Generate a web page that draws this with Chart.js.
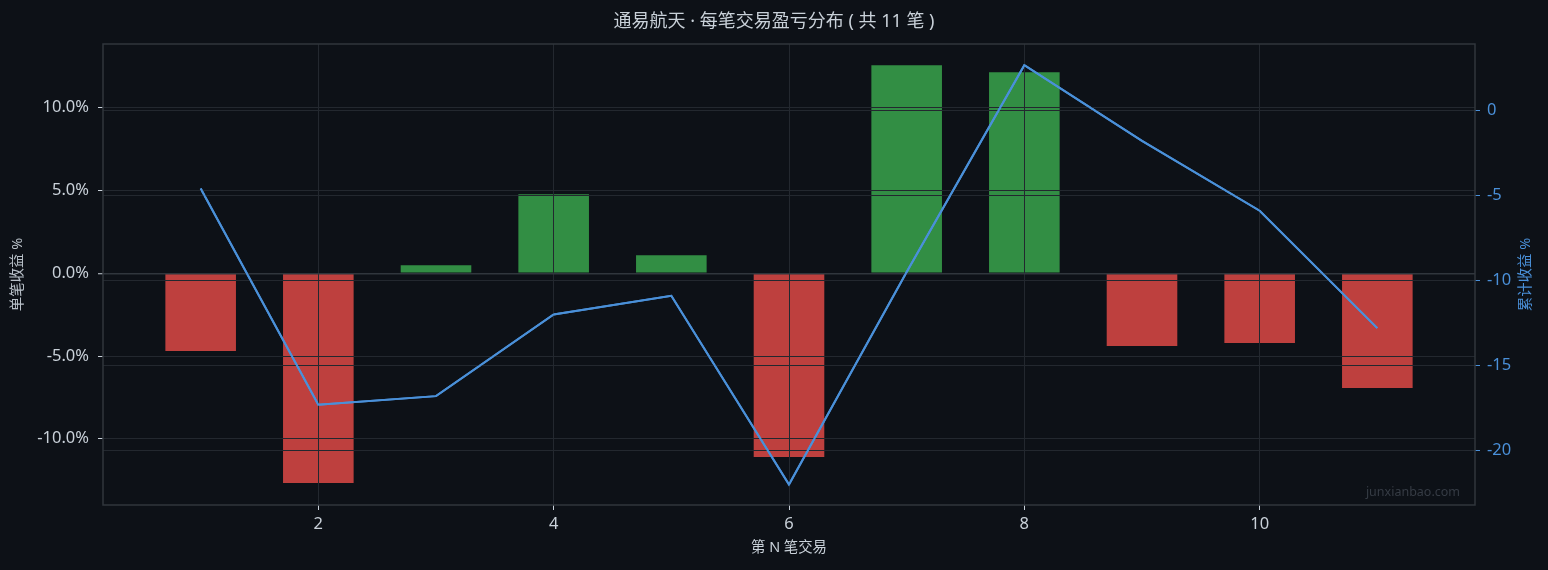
<!DOCTYPE html>
<html>
<head>
<meta charset="utf-8">
<script src="https://cdn.jsdelivr.net/npm/chart.js@4.4.0/dist/chart.umd.min.js"></script>
<style>
  html, body { margin: 0; padding: 0; background: #0d1117; }
  #wrap { width: 1548px; height: 570px; }
</style>
</head>
<body>
<div id="wrap"><canvas id="trades" width="1548" height="570"></canvas></div>
<script>
// trade numbers, per-trade return (%), running total (%)
const TRADE_NO  = [1, 2, 3, 4, 5, 6, 7, 8, 9, 10, 11];
const TRADE_PCT = [-4.69, -12.67, 0.48, 4.77, 1.09, -11.10, 12.57, 12.15, -4.39, -4.21, -6.93];
const CUM_PCT   = [-4.6, -17.3, -16.8, -12.0, -10.9, -22.0, -9.5, 2.65, -1.8, -5.9, -12.8];

// tick labels
const X_TICKS     = [2, 4, 6, 8, 10];
const LEFT_TICKS  = [-10, -5, 0, 5, 10];
const RIGHT_TICKS = [-20, -15, -10, -5, 0];

const TITLE = '通易航天 · 每笔交易盈亏分布 ( 共 11 笔 )';
const FONT  = "'Noto Sans', 'Noto Sans CJK SC', sans-serif";

const TXT   = '#c9d1d9';
const BLUE  = '#4a90d9';
const GRID  = '#23282f';
const FRAME = '#30363d';

const fixTicks = list => scale => { scale.ticks = list.map(v => ({ value: v })); };

// background, line above grid, frame, right title, watermark
const decor = {
  id: 'decor',
  beforeDraw(chart) {
    const c = chart.ctx;
    c.save();
    c.fillStyle = '#0d1117';
    c.fillRect(0, 0, chart.width, chart.height);
    c.restore();
  },
  afterDraw(chart) {
    const c = chart.ctx, a = chart.chartArea;
    chart.getDatasetMeta(1).controller.draw();

    c.save();
    c.strokeStyle = FRAME;
    c.lineWidth = 1.5;
    c.strokeRect(a.left, a.top, a.right - a.left, a.bottom - a.top);

    c.fillStyle = BLUE;
    c.font = `14.4px ${FONT}`;
    c.textAlign = 'center';
    c.textBaseline = 'middle';
    c.translate(1526, (a.top + a.bottom) / 2);
    c.rotate(-Math.PI / 2);
    c.fillText('累计收益 %', 0, 0);
    c.restore();

    c.save();
    c.fillStyle = '#363c45';
    c.font = `12.5px ${FONT}`;
    c.textAlign = 'right';
    c.textBaseline = 'middle';
    c.fillText('junxianbao.com', a.right - 15, a.bottom - 13);
    c.restore();
  }
};

new Chart(document.getElementById('trades'), {
  data: {
    datasets: [
      {
        type: 'bar',
        label: '单笔收益',
        data: TRADE_NO.map((n, i) => ({ x: n, y: TRADE_PCT[i] })),
        backgroundColor: TRADE_PCT.map(v => v >= 0 ? '#328e44' : '#be403e'),
        borderWidth: 0,
        barPercentage: 0.6,
        categoryPercentage: 1,
        yAxisID: 'y',
        order: 2
      },
      {
        type: 'line',
        label: '累计收益',
        data: TRADE_NO.map((n, i) => ({ x: n, y: CUM_PCT[i] })),
        borderColor: BLUE,
        borderWidth: 2,
        pointRadius: 0,
        tension: 0,
        fill: false,
        yAxisID: 'y2',
        order: 1
      }
    ]
  },
  options: {
    responsive: false,
    animation: false,
    devicePixelRatio: 1,
    layout: { padding: 0 },
    plugins: {
      legend: { display: false },
      tooltip: { enabled: false },
      title: {
        display: true,
        text: TITLE,
        color: TXT,
        font: { family: FONT, size: 18, weight: 'normal' },
        padding: { top: 11.2, bottom: 11.2 }
      }
    },
    scales: {
      x: {
        type: 'linear',
        min: 0.17, max: 11.83,
        offset: false,
        afterBuildTicks: fixTicks(X_TICKS),
        afterFit: s => { s.height = 65; },
        grid: { z: 1, offset: false, color: GRID, lineWidth: 1, tickColor: TXT, tickLength: 5, tickWidth: 1 },
        border: { display: false },
        ticks: { color: TXT, font: { family: FONT, size: 16.5 }, padding: 4, callback: v => String(v) },
        title: { display: true, text: '第 N 笔交易', color: TXT, font: { family: FONT, size: 14.4 },
                 padding: { top: 0, bottom: 13.4 } }
      },
      y: {
        type: 'linear',
        position: 'left',
        min: -14.0, max: 13.85,
        afterBuildTicks: fixTicks(LEFT_TICKS),
        afterFit: s => { s.width = 103; },
        grid: {
          z: 1,
          color: ctx => ctx.tick && ctx.tick.value === 0 ? FRAME : GRID,
          lineWidth: ctx => ctx.tick && ctx.tick.value === 0 ? 1.5 : 1,
          tickColor: TXT, tickLength: 5, tickWidth: 1
        },
        border: { display: false },
        ticks: { color: TXT, font: { family: FONT, size: 16.5 }, padding: 9,
                 callback: v => v.toFixed(1) + '%' },
        title: { display: true, text: '单笔收益 %', color: '#b8c0c8', font: { family: FONT, size: 14.4 },
                 padding: { top: 9.4, bottom: 0 } }
      },
      y2: {
        type: 'linear',
        position: 'right',
        min: -23.2, max: 3.9,
        afterBuildTicks: fixTicks(RIGHT_TICKS),
        afterFit: s => { s.width = 73; },
        grid: { z: 1, color: GRID, lineWidth: 1, tickColor: BLUE, tickLength: 5, tickWidth: 1 },
        border: { display: false },
        ticks: { color: BLUE, font: { family: FONT, size: 16.5 }, padding: 7, callback: v => String(v) }
      }
    }
  },
  plugins: [decor]
});
</script>
</body>
</html>
